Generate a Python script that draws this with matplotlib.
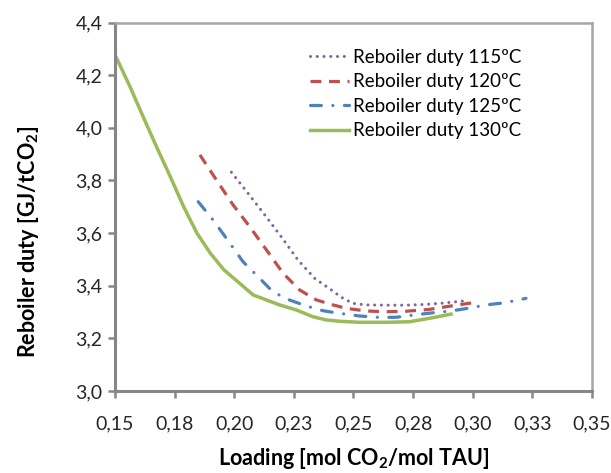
"""
  Reboiler duty vs CO2 loading for several reboiler temperatures.
"""

import matplotlib
matplotlib.use('Agg')
from matplotlib import pyplot as plt

# Series
LOAD_115 = [0.1988, 0.2058, 0.2128, 0.2197, 0.2267, 0.2337, 0.2407, 0.2449,
            0.2497, 0.2553, 0.2637, 0.2721, 0.2804, 0.2888, 0.2972]
DUTY_115 = [3.831, 3.751, 3.669, 3.586, 3.498, 3.428, 3.384, 3.356,
            3.333, 3.327, 3.326, 3.326, 3.329, 3.335, 3.343]

LOAD_120 = [0.1856, 0.1925, 0.1995, 0.2065, 0.2135, 0.2205, 0.2274, 0.2344,
            0.2414, 0.247, 0.2553, 0.2637, 0.2721, 0.2818, 0.2916, 0.3013]
DUTY_120 = [3.897, 3.802, 3.707, 3.624, 3.536, 3.447, 3.384, 3.346,
            3.327, 3.314, 3.304, 3.301, 3.303, 3.310, 3.324, 3.337]

LOAD_125 = [0.1849, 0.1911, 0.1967, 0.2037, 0.21, 0.2162, 0.2225, 0.2302,
            0.2372, 0.2441, 0.2525, 0.2602, 0.2679, 0.2755, 0.2832, 0.2909,
            0.2978, 0.3055, 0.3132, 0.3223]
DUTY_125 = [3.719, 3.650, 3.580, 3.491, 3.434, 3.377, 3.348, 3.323,
            3.305, 3.295, 3.285, 3.280, 3.280, 3.289, 3.297, 3.304,
            3.314, 3.327, 3.335, 3.352]

LOAD_130 = [0.1504, 0.1563, 0.1618, 0.1674, 0.1732, 0.1788, 0.1844, 0.1900,
            0.1957, 0.2023, 0.2079, 0.219, 0.226, 0.233, 0.2386, 0.2441,
            0.2525, 0.2637, 0.2734, 0.2818, 0.2909]
DUTY_130 = [4.270, 4.156, 4.042, 3.928, 3.814, 3.700, 3.599, 3.523,
            3.460, 3.409, 3.365, 3.327, 3.308, 3.282, 3.270, 3.265,
            3.261, 3.261, 3.263, 3.276, 3.292]

X_TICKS = [0.15, 0.175, 0.2, 0.225, 0.25, 0.275, 0.3, 0.325, 0.35]
X_LABELS = ['0,15', '0,18', '0,20', '0,23', '0,25', '0,28', '0,30', '0,33',
            '0,35']
Y_TICKS = [3.0, 3.2, 3.4, 3.6, 3.8, 4.0, 4.2, 4.4]
Y_LABELS = ['3,0', '3,2', '3,4', '3,6', '3,8', '4,0', '4,2', '4,4']

plt.rcParams['font.family'] = ['Lato', 'DejaVu Sans']
plt.rcParams['mathtext.fontset'] = 'custom'
plt.rcParams['mathtext.rm'] = 'Lato'
plt.rcParams['mathtext.bf'] = 'Lato:bold'

fig = plt.figure(figsize=(6.11, 4.73), dpi=100)
axis = fig.add_axes([0.1882, 0.1734, 0.7807, 0.779])

axis.plot(LOAD_115, DUTY_115, color='#8064A2', lw=2.2,
          ls=(0, (0.01, 2.2)), dash_capstyle='round',
          label='Reboiler duty 115ºC')
axis.plot(LOAD_120, DUTY_120, color='#C0504D', lw=2.3,
          ls=(0, (3.4, 2.4)), label='Reboiler duty 120ºC')
axis.plot(LOAD_125, DUTY_125, color='#4F81BD', lw=2.3,
          ls=(0, (3.4, 3.6, 0.01, 3.6)), dash_capstyle='round',
          label='Reboiler duty 125ºC')
axis.plot(LOAD_130, DUTY_130, color='#9BBB59', lw=2.5, ls='-',
          label='Reboiler duty 130ºC')

axis.set_xlim(0.15, 0.35)
axis.set_ylim(3.0, 4.4)
axis.set_xticks(X_TICKS)
axis.set_xticklabels(X_LABELS)
axis.set_yticks(Y_TICKS)
axis.set_yticklabels(Y_LABELS)
axis.tick_params(direction='out', length=5, width=1.8, color='#868686',
                 labelsize=14, labelcolor='#262626')
axis.tick_params(axis='x', pad=12.5)
axis.tick_params(axis='y', pad=4)

for side in ['left', 'bottom']:
    axis.spines[side].set_color('#868686')
    axis.spines[side].set_linewidth(2.2)
for side in ['top', 'right']:
    axis.spines[side].set_color('#A6A6A6')
    axis.spines[side].set_linewidth(1.8)

axis.set_xlabel('Loading [mol CO$_\\mathbf{2}$/mol TAU]', fontsize=15.5,
                fontweight='bold', va='center')
axis.xaxis.set_label_coords(0.5, -0.182)
axis.set_ylabel('Reboiler duty [GJ/tCO$_\\mathbf{2}$]', fontsize=15.5,
                fontweight='bold', va='center')
axis.yaxis.set_label_coords(-0.182, 0.405)

axis.legend(loc='upper left', bbox_to_anchor=(0.409, 0.929), frameon=False,
            fontsize=13.5, handlelength=2.1, handletextpad=0.2,
            labelspacing=0.4, borderpad=0, borderaxespad=0)

fig.savefig('out.png', dpi=100)
